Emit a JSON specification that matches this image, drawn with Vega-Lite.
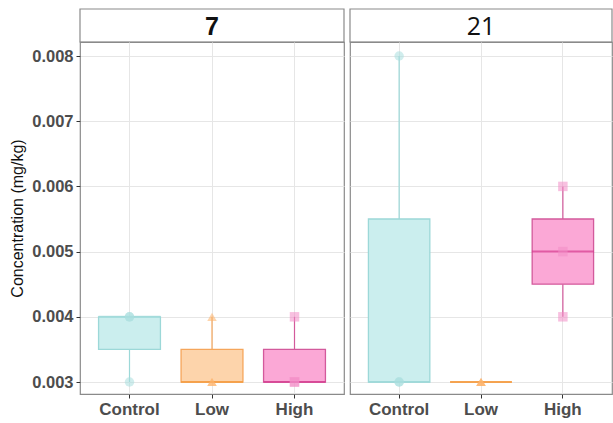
{
  "$schema": "https://vega.github.io/schema/vega-lite/v6.json",
  "padding": {"left": 9, "top": 8, "right": 0, "bottom": 5},
  "background": "white",
  "datasets": {
    "conc": [
      {"day": 7, "group": "Control", "value": 0.003},
      {"day": 7, "group": "Control", "value": 0.004},
      {"day": 7, "group": "Control", "value": 0.004},
      {"day": 7, "group": "Low", "value": 0.003},
      {"day": 7, "group": "Low", "value": 0.003},
      {"day": 7, "group": "Low", "value": 0.004},
      {"day": 7, "group": "High", "value": 0.003},
      {"day": 7, "group": "High", "value": 0.003},
      {"day": 7, "group": "High", "value": 0.004},
      {"day": 21, "group": "Control", "value": 0.003},
      {"day": 21, "group": "Control", "value": 0.003},
      {"day": 21, "group": "Control", "value": 0.008},
      {"day": 21, "group": "Low", "value": 0.003},
      {"day": 21, "group": "Low", "value": 0.003},
      {"day": 21, "group": "Low", "value": 0.003},
      {"day": 21, "group": "High", "value": 0.004},
      {"day": 21, "group": "High", "value": 0.005},
      {"day": 21, "group": "High", "value": 0.006}
    ]
  },
  "columns": 2,
  "bounds": "flush",
  "spacing": {"row": 0, "column": 6},
  "concat": [
    {
      "width": 264, "height": 33,
      "data": {"values": [{"label": "7"}]},
      "layer": [
        {"mark": {"type": "rect", "fill": "white", "stroke": "#8a8a8a", "strokeWidth": 1.2}, "encoding": {}},
        {"mark": {"type": "text", "fontSize": 25, "fontWeight": "bold", "font": "Liberation Sans", "color": "#111111", "baseline": "middle", "dy": 1},
         "encoding": {"text": {"field": "label"}}}
      ]
    },
    {
      "width": 262, "height": 33,
      "data": {"values": [{"label": "21"}]},
      "layer": [
        {"mark": {"type": "rect", "fill": "white", "stroke": "#8a8a8a", "strokeWidth": 1.2}, "encoding": {}},
        {"mark": {"type": "text", "fontSize": 25, "fontWeight": "normal", "font": "Open Sans", "color": "#111111", "baseline": "middle", "dy": 1},
         "encoding": {"text": {"field": "label"}}}
      ]
    },
    {
      "width": 264, "height": 352,
      "data": {"name": "conc"},
      "transform": [{"filter": "datum.day == 7"}],
      "encoding": {
        "x": {"field": "group", "type": "nominal", "sort": ["Control", "Low", "High"],
              "scale": {"domain": ["Control", "Low", "High"], "paddingInner": 0, "paddingOuter": 0.1},
              "axis": {"title": null}}
      },
      "layer": [
        {
          "transform": [{"aggregate": [{"op": "q1", "field": "value", "as": "q1"}, {"op": "q3", "field": "value", "as": "q3"}, {"op": "min", "field": "value", "as": "lo"}, {"op": "max", "field": "value", "as": "hi"}, {"op": "median", "field": "value", "as": "med"}], "groupby": ["group"]}],
          "layer": [
            {"mark": {"type": "rule", "strokeWidth": 1.2},
             "encoding": {"y": {"field": "lo", "type": "quantitative", "scale": {"domain": [0.002816, 0.008215], "nice": false, "zero": false},
                   "axis": {"title": "Concentration (mg/kg)", "values": [0.003, 0.0035, 0.004, 0.0045, 0.005, 0.0055, 0.006, 0.0065, 0.007, 0.0075, 0.008], "format": ".3f",
                            "labelExpr": "round(datum.value*10000) % 10 == 0 ? datum.label : ''",
                            "tickColor": {"condition": {"test": "round(datum.value*10000) % 10 == 0", "value": "#333333"}, "value": "transparent"},
                            "gridColor": {"condition": {"test": "round(datum.value*10000) % 10 == 0", "value": "#e6e6e6"}, "value": "#f0f0f0"}}},
                          "y2": {"field": "q1"},
                          "stroke": {"field": "group", "type": "nominal", "scale": {"domain": ["Control", "Low", "High"], "range": ["#9cd8d8", "#f5a65b", "#d35a9c"]}, "legend": null}}},
            {"mark": {"type": "rule", "strokeWidth": 1.2},
             "encoding": {"y": {"field": "q3", "type": "quantitative"}, "y2": {"field": "hi"},
                          "stroke": {"field": "group", "type": "nominal", "legend": null}}},
            {"mark": {"type": "bar", "width": {"band": 0.75}, "strokeWidth": 1.3},
             "encoding": {"y": {"field": "q1", "type": "quantitative"}, "y2": {"field": "q3"},
                          "fill": {"field": "group", "type": "nominal", "scale": {"domain": ["Control", "Low", "High"], "range": ["#cbeeee", "#fdd4ab", "#fba8d6"]}, "legend": null},
                          "stroke": {"field": "group", "type": "nominal", "legend": null}}},
            {"mark": {"type": "tick", "size": 62, "thickness": 2},
             "encoding": {"y": {"field": "med", "type": "quantitative"},
                          "color": {"field": "group", "type": "nominal", "scale": {"domain": ["Control", "Low", "High"], "range": ["#9cd8d8", "#f59a3c", "#d63b8f"]}, "legend": null}}}
          ]
        },
        {
          "mark": {"type": "point", "filled": true, "size": 90, "opacity": 0.55},
          "encoding": {
            "y": {"field": "value", "type": "quantitative"},
            "fill": {"field": "group", "type": "nominal", "scale": {"domain": ["Control", "Low", "High"], "range": ["#a9dede", "#fdb36a", "#f38cc6"]}, "legend": null},
            "shape": {"field": "group", "type": "nominal", "scale": {"domain": ["Control", "Low", "High"], "range": ["circle", "triangle-up", "square"]}, "legend": null}
          }
        }
      ],
      "resolve": {"scale": {"fill": "independent", "color": "independent"}}
    },
    {
      "width": 262, "height": 352,
      "data": {"name": "conc"},
      "transform": [{"filter": "datum.day == 21"}],
      "encoding": {
        "x": {"field": "group", "type": "nominal", "sort": ["Control", "Low", "High"],
              "scale": {"domain": ["Control", "Low", "High"], "paddingInner": 0, "paddingOuter": 0.1},
              "axis": {"title": null}}
      },
      "layer": [
        {
          "transform": [{"aggregate": [{"op": "q1", "field": "value", "as": "q1"}, {"op": "q3", "field": "value", "as": "q3"}, {"op": "min", "field": "value", "as": "lo"}, {"op": "max", "field": "value", "as": "hi"}, {"op": "median", "field": "value", "as": "med"}], "groupby": ["group"]}],
          "layer": [
            {"mark": {"type": "rule", "strokeWidth": 1.2},
             "encoding": {"y": {"field": "lo", "type": "quantitative", "scale": {"domain": [0.002816, 0.008215], "nice": false, "zero": false},
                   "axis": {"title": null, "labels": false, "ticks": false, "values": [0.003, 0.0035, 0.004, 0.0045, 0.005, 0.0055, 0.006, 0.0065, 0.007, 0.0075, 0.008],
                            "gridColor": {"condition": {"test": "round(datum.value*10000) % 10 == 0", "value": "#e6e6e6"}, "value": "#f0f0f0"}}},
                          "y2": {"field": "q1"},
                          "stroke": {"field": "group", "type": "nominal", "scale": {"domain": ["Control", "Low", "High"], "range": ["#9cd8d8", "#f5a65b", "#d35a9c"]}, "legend": null}}},
            {"mark": {"type": "rule", "strokeWidth": 1.2},
             "encoding": {"y": {"field": "q3", "type": "quantitative"}, "y2": {"field": "hi"},
                          "stroke": {"field": "group", "type": "nominal", "legend": null}}},
            {"mark": {"type": "bar", "width": {"band": 0.75}, "strokeWidth": 1.3},
             "encoding": {"y": {"field": "q1", "type": "quantitative"}, "y2": {"field": "q3"},
                          "fill": {"field": "group", "type": "nominal", "scale": {"domain": ["Control", "Low", "High"], "range": ["#cbeeee", "#fdd4ab", "#fba8d6"]}, "legend": null},
                          "stroke": {"field": "group", "type": "nominal", "legend": null}}},
            {"mark": {"type": "tick", "size": 62, "thickness": 2},
             "encoding": {"y": {"field": "med", "type": "quantitative"},
                          "color": {"field": "group", "type": "nominal", "scale": {"domain": ["Control", "Low", "High"], "range": ["#9cd8d8", "#f59a3c", "#d63b8f"]}, "legend": null}}}
          ]
        },
        {
          "mark": {"type": "point", "filled": true, "size": 90, "opacity": 0.55},
          "encoding": {
            "y": {"field": "value", "type": "quantitative"},
            "fill": {"field": "group", "type": "nominal", "scale": {"domain": ["Control", "Low", "High"], "range": ["#a9dede", "#fdb36a", "#f38cc6"]}, "legend": null},
            "shape": {"field": "group", "type": "nominal", "scale": {"domain": ["Control", "Low", "High"], "range": ["circle", "triangle-up", "square"]}, "legend": null}
          }
        }
      ],
      "resolve": {"scale": {"fill": "independent", "color": "independent"}}
    }
  ],
  "config": {
    "view": {"stroke": "#8a8a8a", "strokeWidth": 1.2},
    "font": "Liberation Sans",
    "axis": {
      "labelFont": "Liberation Sans", "labelFontWeight": "bold", "labelFontSize": 16, "labelColor": "#4d4d4d",
      "titleFont": "Liberation Sans", "titleFontWeight": "normal", "titleFontSize": 16, "titleColor": "#111111",
      "domain": false, "tickColor": "#333333", "tickSize": 4, "labelPadding": 3, "titlePadding": 6,
      "gridColor": "#e6e6e6", "grid": true
    },
    "axisX": {"bandPosition": 0.5, "labelAngle": 0, "labelPadding": 3, "labelFontSize": 17},
    "axisY": {"labelFontSize": 16.5}
  }
}
